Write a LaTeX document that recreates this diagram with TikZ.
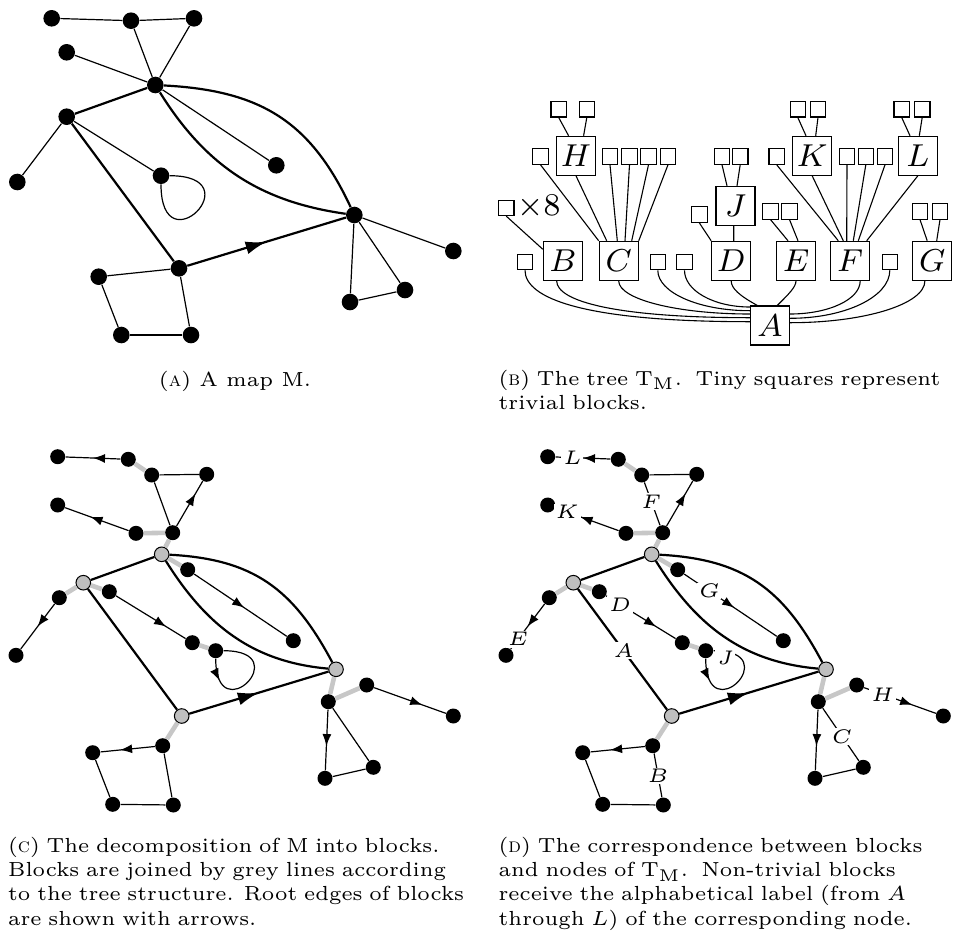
\documentclass[tikz,border=0pt]{standalone}
\usepackage{graphicx}
\usetikzlibrary{arrows.meta,decorations.markings,calc}
\DeclareMathSizes{5}{5}{3.5}{2.5}
\DeclareMathSizes{6}{6}{4.2}{3}
\newcommand\tlab[1]{\scalebox{1.98}{$#1$}}
\newcommand\llab[1]{\scalebox{1.97}{$#1$}}
\newcommand\fullline[1]{\makebox[\linewidth][s]{#1}}
\tikzset{
  va/.style={circle,fill=black,inner sep=0pt,minimum size=8.3pt},
  v/.style={circle,fill=black,inner sep=0pt,minimum size=7.5pt},
  gv/.style={circle,fill=black!25,draw=black,line width=0.5pt,inner sep=0pt,minimum size=7.3pt},
  e/.style={line width=0.6pt},
  te/.style={line width=1.1pt},
  gl/.style={line width=2.3pt,draw=black!22},
  arr/.style={postaction={decorate,decoration={markings,mark=at position #1 with {\arrow{Latex[length=6pt,width=4.5pt]}}}}},
  arrT/.style={postaction={decorate,decoration={markings,mark=at position #1 with {\arrow{Latex[length=10.5pt,width=6.5pt]}}}}},
  tb/.style={draw,line width=0.55pt,minimum size=19.5pt,inner sep=0pt,font=\fontsize{8}{9}\selectfont},
  ts/.style={draw,line width=0.55pt,minimum size=7.75pt,inner sep=0pt},
  tl/.style={line width=0.55pt},
  lab/.style={fill=white,inner sep=0.8pt,font=\fontsize{5}{6}\selectfont},
  captext/.style={inner sep=0pt,scale=1.7,font=\fontsize{6}{7.2}\selectfont,text width=133.8pt,align=left,anchor=base west},
}
\newcommand\drawblocks[1]{%
  \node[v] (#1-1) at (57.7,456.7) {};
  \node[v] (#1-2) at (128.3,459.3) {};
  \node[v] (#1-3) at (151.7,475) {};
  \node[v] (#1-4) at (206.7,474.3) {};
  \node[v] (#1-5) at (57.7,505) {};
  \node[v] (#1-6) at (136,533.3) {};
  \node[v] (#1-7) at (172.7,532.7) {};
  \node[gv] (#1-8) at (161.7,554.3) {};
  \node[v] (#1-9) at (187.7,569.7) {};
  \node[gv] (#1-10) at (83.3,582.7) {};
  \node[v] (#1-11) at (109.3,591.7) {};
  \node[v] (#1-12) at (59.3,597.7) {};
  \node[v] (#1-13) at (16,655.3) {};
  \node[v] (#1-14) at (192.3,642.7) {};
  \node[v] (#1-15) at (215.7,650.7) {};
  \node[v] (#1-16) at (293.3,640.7) {};
  \node[gv] (#1-17) at (336,669.3) {};
  \node[v] (#1-18) at (366.7,685) {};
  \node[v] (#1-19) at (453.3,716) {};
  \node[v] (#1-20) at (328.3,701.7) {};
  \node[v] (#1-21) at (325,778.3) {};
  \node[v] (#1-22) at (373.3,767.3) {};
  \node[gv] (#1-23) at (181.7,716) {};
  \node[v] (#1-24) at (162.7,745.7) {};
  \node[v] (#1-25) at (92.7,752.7) {};
  \node[v] (#1-26) at (112.7,804.3) {};
  \node[v] (#1-27) at (173.3,805) {};
  \draw[gl] (#1-2) -- (#1-3);
  \draw[gl] (#1-6) -- (#1-7);
  \draw[gl] (#1-7) -- (#1-8);
  \draw[gl] (#1-8) -- (#1-9);
  \draw[gl] (#1-10) -- (#1-11);
  \draw[gl] (#1-10) -- (#1-12);
  \draw[gl] (#1-14) -- (#1-15);
  \draw[gl] (#1-17) -- (#1-20);
  \draw[gl] (#1-20) -- (#1-18);
  \draw[gl] (#1-23) -- (#1-24);
  \draw[e,arr=0.5] (#1-2) -- (#1-1);
  \draw[e] (#1-3) -- (#1-4);
  \draw[e] (#1-3) -- (#1-7);
  \draw[e,arr=0.72] (#1-7) -- (#1-4);
  \draw[e,arr=0.6] (#1-6) -- (#1-5);
  \draw[e,arr=0.5] (#1-12) -- (#1-13);
  \draw[e,arr=0.72] (#1-11) -- (#1-14);
  \draw[e,arr=0.54] (#1-9) -- (#1-16);
  \draw[e,arr=0.2] (#1-15) to[out=-90,in=0,distance=37pt] (#1-15);
  \draw[e,arr=0.67] (#1-18) -- (#1-19);
  \draw[e,arr=0.6] (#1-20) -- (#1-21);
  \draw[e] (#1-20) -- (#1-22);
  \draw[e] (#1-21) -- (#1-22);
  \draw[e,arr=0.64] (#1-24) -- (#1-25);
  \draw[e] (#1-25) -- (#1-26);
  \draw[e] (#1-26) -- (#1-27);
  \draw[e] (#1-27) -- (#1-24);
  \draw[te] (#1-8) -- (#1-10);
  \draw[te] (#1-10) -- (#1-23);
  \draw[te,arrT=0.5] (#1-23) -- (#1-17);
  \draw[te] (#1-8) to[out=-3,in=118,looseness=1.1] (#1-17);
  \draw[te] (#1-8) to[out=-58,in=175] (#1-17);
}
\begin{document}
\begin{tikzpicture}[x=0.5pt,y=-0.5pt]
\useasboundingbox (0,0) rectangle (954,943);
% ---------------- panel A : the map
\node[va] (a1) at (51.7,18.3) {};
\node[va] (a2) at (131,20.7) {};
\node[va] (a3) at (194,18.3) {};
\node[va] (a4) at (66.7,52.3) {};
\node[va] (a5) at (155.3,85) {};
\node[va] (a6) at (66.7,116.7) {};
\node[va] (a7) at (17.3,182) {};
\node[va] (a8) at (161,175.7) {};
\node[va] (a9) at (276.3,165.3) {};
\node[va] (a10) at (354.3,215) {};
\node[va] (a11) at (453.3,251) {};
\node[va] (a12) at (405,290) {};
\node[va] (a13) at (350,302) {};
\node[va] (a14) at (179,268.3) {};
\node[va] (a15) at (98.7,276.7) {};
\node[va] (a16) at (121.3,335) {};
\node[va] (a17) at (191,335) {};
\draw[e] (a1) -- (a2);
\draw[e] (a2) -- (a3);
\draw[e] (a2) -- (a5);
\draw[e] (a3) -- (a5);
\draw[e] (a4) -- (a5);
\draw[e] (a5) -- (a9);
\draw[e] (a6) -- (a7);
\draw[e] (a6) -- (a8);
\draw[e] (a8) to[out=0,in=-90,distance=42pt] (a8);
\draw[e] (a10) -- (a11);
\draw[e] (a10) -- (a12);
\draw[e] (a10) -- (a13);
\draw[e] (a12) -- (a13);
\draw[e] (a14) -- (a15);
\draw[e] (a15) -- (a16);
\draw[e] (a16) -- (a17);
\draw[e] (a17) -- (a14);
\draw[te] (a5) -- (a6);
\draw[te] (a6) -- (a14);
\draw[te,arrT=0.5] (a14) -- (a10);
\draw[te] (a5) to[out=-3,in=115,looseness=1.1] (a10);
\draw[te] (a5) to[out=-58,in=172] (a10);
% ---------------- panel B : the tree
\node[tb] (tA) at (770,325.5) {\tlab{A}};
\node[tb] (tB) at (562.8,260.8) {\tlab{B}};
\node[tb] (tC) at (618.7,260.8) {\tlab{C}};
\node[tb] (tD) at (731.2,260.8) {\tlab{D}};
\node[tb] (tE) at (796,260.8) {\tlab{E}};
\node[tb] (tF) at (850,260.8) {\tlab{F}};
\node[tb] (tG) at (932.2,260.8) {\tlab{G}};
\node[tb] (tH) at (576,155.8) {\tlab{H}};
\node[tb] (tJ) at (735.5,205.8) {\tlab{J}};
\node[tb] (tK) at (812.2,155.8) {\tlab{K}};
\node[tb] (tL) at (917.8,155.8) {\tlab{L}};
\node[ts] (s1) at (525,262) {};
\node[ts] (s2) at (657.8,262) {};
\node[ts] (s3) at (684.5,262) {};
\node[ts] (s4) at (889.8,262) {};
\node[ts] (x8) at (506.2,207.8) {};
\node[anchor=base west,inner sep=0pt,font=\fontsize{8}{9}\selectfont] (x8t) at (517,215) {\tlab{\times 8}};
\node[ts] (t1) at (540.5,156.5) {};
\node[ts] (t2) at (610,156.5) {};
\node[ts] (t3) at (629.5,156.5) {};
\node[ts] (t4) at (648.5,156.5) {};
\node[ts] (t5) at (668,156.5) {};
\node[ts] (t6) at (776.7,156.5) {};
\node[ts] (t7) at (847,156.5) {};
\node[ts] (t8) at (865.8,156.5) {};
\node[ts] (t9) at (885,156.5) {};
\node[ts] (j1) at (722,156.5) {};
\node[ts] (j2) at (740.2,156.5) {};
\node[ts] (h1) at (558.7,109.2) {};
\node[ts] (h2) at (586.8,109.2) {};
\node[ts] (k1) at (797.8,109.2) {};
\node[ts] (k2) at (818,109.2) {};
\node[ts] (l1) at (901.7,109.2) {};
\node[ts] (l2) at (922.2,109.2) {};
\node[ts] (dc) at (699.3,214.5) {};
\node[ts] (e1) at (770.5,211.3) {};
\node[ts] (e2) at (789.5,211.3) {};
\node[ts] (g1) at (920,211.3) {};
\node[ts] (g2) at (940,211.3) {};
% edges to C
\draw[tl] (t1.south) -- (tC.north west);
\draw[tl] (tH.south) -- ($(tC.north)+(-12,0)$);
\draw[tl] (t2.south) -- ($(tC.north)+(-1.4,0)$);
\draw[tl] (t3.south) -- ($(tC.north)+(6.3,0)$);
\draw[tl] (t4.south) -- ($(tC.north)+(13,0)$);
\draw[tl] (t5.south) -- (tC.north east);
% edges to F
\draw[tl] (t6.south) -- ($(tF.north)+(-11.7,0)$);
\draw[tl] (tK.south) -- ($(tF.north)+(-6.7,0)$);
\draw[tl] (t7.south) -- ($(tF.north)+(-3.3,0)$);
\draw[tl] (t8.south) -- ($(tF.north)+(3.3,0)$);
\draw[tl] (t9.south) -- ($(tF.north)+(8.3,0)$);
\draw[tl] (tL.south) -- ($(tF.north)+(16.7,0)$);
% small trees
\draw[tl] (h1.south) -- ($(tH.north)+(-7.4,0)$);
\draw[tl] (h2.south) -- ($(tH.north)+(7.6,0)$);
\draw[tl] (k1.south) -- ($(tK.north)+(-6.2,0)$);
\draw[tl] (k2.south) -- ($(tK.north)+(3.5,0)$);
\draw[tl] (l1.south) -- ($(tL.north)+(-7.8,0)$);
\draw[tl] (l2.south) -- ($(tL.north)+(1.5,0)$);
\draw[tl] (j1.south) -- ($(tJ.north)+(-8.5,0)$);
\draw[tl] (j2.south) -- ($(tJ.north)+(1.5,0)$);
\draw[tl] ($(tJ.south)+(-1.8,0)$) -- ($(tD.north)+(2.5,0)$);
\draw[tl] (dc.south) -- (tD.north west);
\draw[tl] (e1.south) -- ($(tE.north)+(-8,0)$);
\draw[tl] (e2.south) -- ($(tE.north)+(2,0)$);
\draw[tl] (g1.south) -- ($(tG.north)+(-5,0)$);
\draw[tl] (g2.south) -- ($(tG.north)+(4.5,0)$);
\draw[tl] (x8.south) -- (tB.150);
% curves to the root
\draw[tl] (s1.south) to[out=-90,in=180,out distance=14.2pt,in distance=82.6pt] ($(tA.west)+(0,-3.8)$);
\draw[tl] (tB.-107) to[out=-90,in=180,out distance=10.3pt,in distance=66.8pt] ($(tA.west)+(0,-7.8)$);
\draw[tl] (tC.south) to[out=-90,in=180,out distance=9.3pt,in distance=36.2pt] ($(tA.west)+(0,-11.5)$);
\draw[tl] (s2.south) to[out=-90,in=180,out distance=11.2pt,in distance=25.4pt] ($(tA.west)+(0,-14.8)$);
\draw[tl] (s3.south) to[out=-90,in=180,out distance=10.2pt,in distance=18.1pt] ($(tA.west)+(0,-18.5)$);
\draw[tl] (tD.south) to[out=-90,in=151,out distance=3.9pt,in distance=10pt] ($(tA.north)+(-12.7,0)$);
\draw[tl] (tE.south) to[out=-90,in=45,out distance=3.1pt,in distance=7.9pt] ($(tA.north)+(7.3,0)$);
\draw[tl] (tF.-63) to[out=-90,in=0,out distance=9.3pt,in distance=19.3pt] ($(tA.east)+(0,-11.5)$);
\draw[tl] (s4.south) to[out=-90,in=0,out distance=13.3pt,in distance=27.5pt] ($(tA.east)+(0,-7.2)$);
\draw[tl] (tG.-110) to[out=-90,in=0,out distance=11.7pt,in distance=37.2pt] ($(tA.east)+(0,-2.8)$);
% ---------------- panels C and D
\drawblocks{c}
\begin{scope}[shift={(490,0)}]
\drawblocks{d}
\end{scope}
\node[lab] (lL) at ($(d-1)!0.35!(d-2)$) {\llab{L}};
\node[lab] (lF) at ($(d-3)!0.46!(d-7)$) {\llab{F}};
\node[lab] (lK) at ($(d-5)!0.25!(d-6)$) {\llab{K}};
\node[lab] (lE) at ($(d-12)!0.72!(d-13)$) {\llab{E}};
\node[lab] (lD) at ($(d-11)!0.25!(d-14)$) {\llab{D}};
\node[lab] (lG) at ($(d-9)!0.3!(d-16)$) {\llab{G}};
\node[lab] (lA) at ($(d-10)!0.51!(d-23)$) {\llab{A}};
\node[lab] (lH) at ($(d-18)!0.3!(d-19)$) {\llab{H}};
\node[lab] (lC) at ($(d-20)!0.53!(d-22)$) {\llab{C}};
\node[lab] (lB) at ($(d-24)!0.51!(d-27)$) {\llab{B}};
\node[lab] (lJ) at ($(d-15)+(19.6,6.6)$) {\llab{J}};
% ---------------- captions
\node[inner sep=0pt,scale=1.7,font=\fontsize{6}{7.2}\selectfont,anchor=base] (capA) at (235,386) {(\textsc{a}) A map M.};
\node[captext] (capB) at (498,385) {\fullline{(\textsc{b}) The tree $\mathrm{T}_{\mathrm{M}}$.\ \ Tiny squares represent}\\trivial blocks.};
\node[captext] (capC) at (7.5,852) {\fullline{(\textsc{c}) The decomposition of M into blocks.}\\\fullline{Blocks are joined by grey lines according}\\\fullline{to the tree structure. Root edges of blocks}\\are shown with arrows.};
\node[captext] (capD) at (498,852) {\fullline{(\textsc{d}) The correspondence between blocks}\\\fullline{and nodes of $\mathrm{T}_{\mathrm{M}}$.\ \ Non-trivial blocks}\\\fullline{receive the alphabetical label (from $A$}\\through $L$) of the corresponding node.};
\end{tikzpicture}
\end{document}
